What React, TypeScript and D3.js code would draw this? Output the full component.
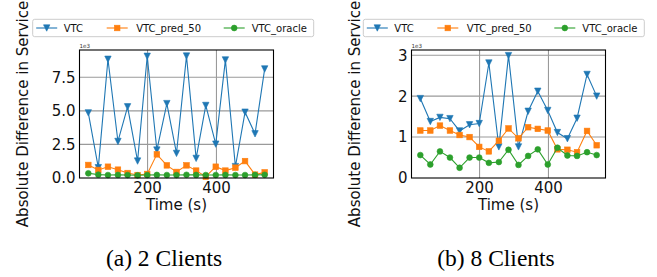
import React from 'react';
import * as d3 from 'd3';

// time axis (s), shared by both panels
const times = [28, 57, 85, 114, 142, 171, 199, 227, 256, 284, 313, 341, 369, 398, 426, 455, 483, 512, 540];

// (a) 2 clients, values in 1e3
const vtc2 = [4.85, 0.77, 8.84, 2.72, 5.30, 1.26, 9.06, 2.08, 5.54, 1.83, 9.08, 1.46, 5.40, 2.52, 8.79, 0.85, 4.90, 3.29, 8.12];
const pred2 = [0.97, 0.60, 0.84, 0.62, 0.37, 0.22, 0.30, 1.76, 0.94, 0.45, 0.94, 0.55, 0.10, 0.84, 0.55, 0.77, 1.26, 0.25, 0.42];
const oracle2 = [0.35, 0.25, 0.22, 0.23, 0.22, 0.20, 0.22, 0.23, 0.22, 0.22, 0.24, 0.23, 0.22, 0.22, 0.23, 0.22, 0.22, 0.23, 0.24];

// (b) 8 clients, values in 1e3
const vtc8 = [1.94, 1.38, 1.48, 1.45, 1.15, 1.30, 1.33, 2.81, 0.76, 2.99, 0.76, 1.63, 2.12, 1.65, 1.11, 0.96, 1.46, 2.53, 2.00];
const pred8 = [1.16, 1.16, 1.28, 1.16, 1.05, 1.00, 0.76, 0.65, 0.91, 1.21, 0.97, 1.24, 1.20, 1.16, 0.70, 0.69, 0.63, 1.15, 0.80];
const oracle8 = [0.56, 0.33, 0.65, 0.50, 0.25, 0.50, 0.50, 0.37, 0.39, 0.69, 0.32, 0.54, 0.70, 0.33, 0.74, 0.55, 0.54, 0.63, 0.56];

const seriesNames = ['VTC', 'VTC_pred_50', 'VTC_oracle'];
const colors = ['#1f77b4', '#ff7f0e', '#2ca02c'];
const markers = ['tri', 'square', 'circle'];

const yTicks2 = [0, 2.5, 5, 7.5];
const yTicks8 = [0, 1, 2, 3];
const xTicks = [200, 400];
const captions = ['(a) 2 Clients', '(b) 8 Clients'];

const FONT = 'DejaVu Sans, sans-serif';

const Marker = ({ kind, x, y, color }) => {
  if (kind === 'tri') {
    return <path d={`M${x - 3.2},${y - 3.2}L${x + 3.2},${y - 3.2}L${x},${y + 3.2}Z`} fill={color} stroke={color} strokeWidth={0.6} />;
  }
  if (kind === 'square') {
    return <rect x={x - 2.8} y={y - 2.8} width={5.6} height={5.6} fill={color} stroke={color} strokeWidth={0.6} />;
  }
  return <circle cx={x} cy={y} r={2.9} fill={color} stroke={color} strokeWidth={0.6} />;
};

const Legend = ({ left }) => {
  const entries = [
    { mx: 14, tx: 31 },
    { mx: 84.5, tx: 103.5 },
    { mx: 201.5, tx: 219 },
  ];
  const cy = 28;
  return (
    <g transform={`translate(${left},0)`}>
      <rect x={0} y={19.3} width={281} height={17.4} rx={2} fill="white" stroke="#cccccc" strokeWidth={1} />
      {entries.map((e, i) => (
        <g key={i}>
          <line x1={e.mx - 10.5} x2={e.mx + 10.5} y1={cy} y2={cy} stroke={colors[i]} strokeWidth={1.1} />
          <Marker kind={markers[i]} x={e.mx} y={cy} color={colors[i]} />
          <text x={e.tx} y={cy + 3.6} fontSize={10} fontFamily={FONT} fill="#111">{seriesNames[i]}</text>
        </g>
      ))}
    </g>
  );
};

const Panel = ({ offsetX, series, yTicks, yFmt, caption }) => {
  const left = offsetX + 79.5;
  const right = offsetX + 273.5;
  const top = 50;
  const bottom = 178;

  const xmin = d3.min(times);
  const xmax = d3.max(times);
  const xpad = (xmax - xmin) * 0.05;
  const x = d3.scaleLinear().domain([xmin - xpad, xmax + xpad]).range([left, right]);

  const all = series.flat();
  const ymaxData = d3.max(all);
  const yminData = d3.min(all);
  const y = d3.scaleLinear().domain([0, ymaxData + 0.05 * (ymaxData - yminData)]).range([bottom, top]);

  const line = d3.line().x(d => x(d[0])).y(d => y(d[1]));
  const midY = (top + bottom) / 2;

  return (
    <g>
      {/* grid */}
      {xTicks.map(t => (
        <line key={'gx' + t} x1={x(t)} x2={x(t)} y1={top} y2={bottom} stroke="#9a9a9a" strokeWidth={1.1} />
      ))}
      {yTicks.filter(t => t > 0).map(t => (
        <line key={'gy' + t} x1={left} x2={right} y1={y(t)} y2={y(t)} stroke="#9a9a9a" strokeWidth={1.1} />
      ))}

      {/* series */}
      {series.map((vals, i) => {
        const pts = times.map((t, j) => [t, vals[j]]);
        return (
          <g key={i}>
            <path d={line(pts)} fill="none" stroke={colors[i]} strokeWidth={1.1} />
            {pts.map((p, j) => (
              <Marker key={j} kind={markers[i]} x={x(p[0])} y={y(p[1])} color={colors[i]} />
            ))}
          </g>
        );
      })}

      {/* frame */}
      <rect x={left} y={top} width={right - left} height={bottom - top} fill="none" stroke="#000" strokeWidth={1.1} />

      {/* ticks */}
      {xTicks.map(t => (
        <text key={'tx' + t} x={x(t)} y={193} textAnchor="middle" fontSize={15} fontFamily={FONT} fill="#111">{t}</text>
      ))}
      {yTicks.map(t => (
        <text key={'ty' + t} x={left - 4} y={y(t) + 5.4} textAnchor="end" fontSize={15} fontFamily={FONT} fill="#111">{yFmt(t)}</text>
      ))}
      <text x={left} y={47.5} fontSize={5.6} fontFamily={FONT} fill="#333">1e3</text>

      {/* axis labels */}
      <text x={(left + right) / 2} y={209.5} textAnchor="middle" fontSize={15} fontFamily={FONT} fill="#111">Time (s)</text>
      <text transform={`translate(${offsetX + 28.3},${midY}) rotate(-90)`} textAnchor="middle" fontSize={15} fontFamily={FONT} fill="#111">
        Absolute Difference in Service
      </text>

      {/* caption */}
      <text x={offsetX + 164} y={266} textAnchor="middle" fontSize={23.5} fontFamily="Liberation Serif, Times New Roman, serif" fill="#000">{caption}</text>
    </g>
  );
};

const App = () => {
  return (
    <svg width={657} height={277} style={{ position: 'absolute', left: 0, top: 0, background: 'white' }}>
      <rect width={657} height={277} fill="white" />
      <Panel offsetX={0} series={[vtc2, pred2, oracle2]} yTicks={yTicks2} yFmt={d3.format('.1f')} caption={captions[0]} />
      <Panel offsetX={332} series={[vtc8, pred8, oracle8]} yTicks={yTicks8} yFmt={d3.format('d')} caption={captions[1]} />
      <Legend left={32.7} />
      <Legend left={363.3} />
    </svg>
  );
};

export default App;
